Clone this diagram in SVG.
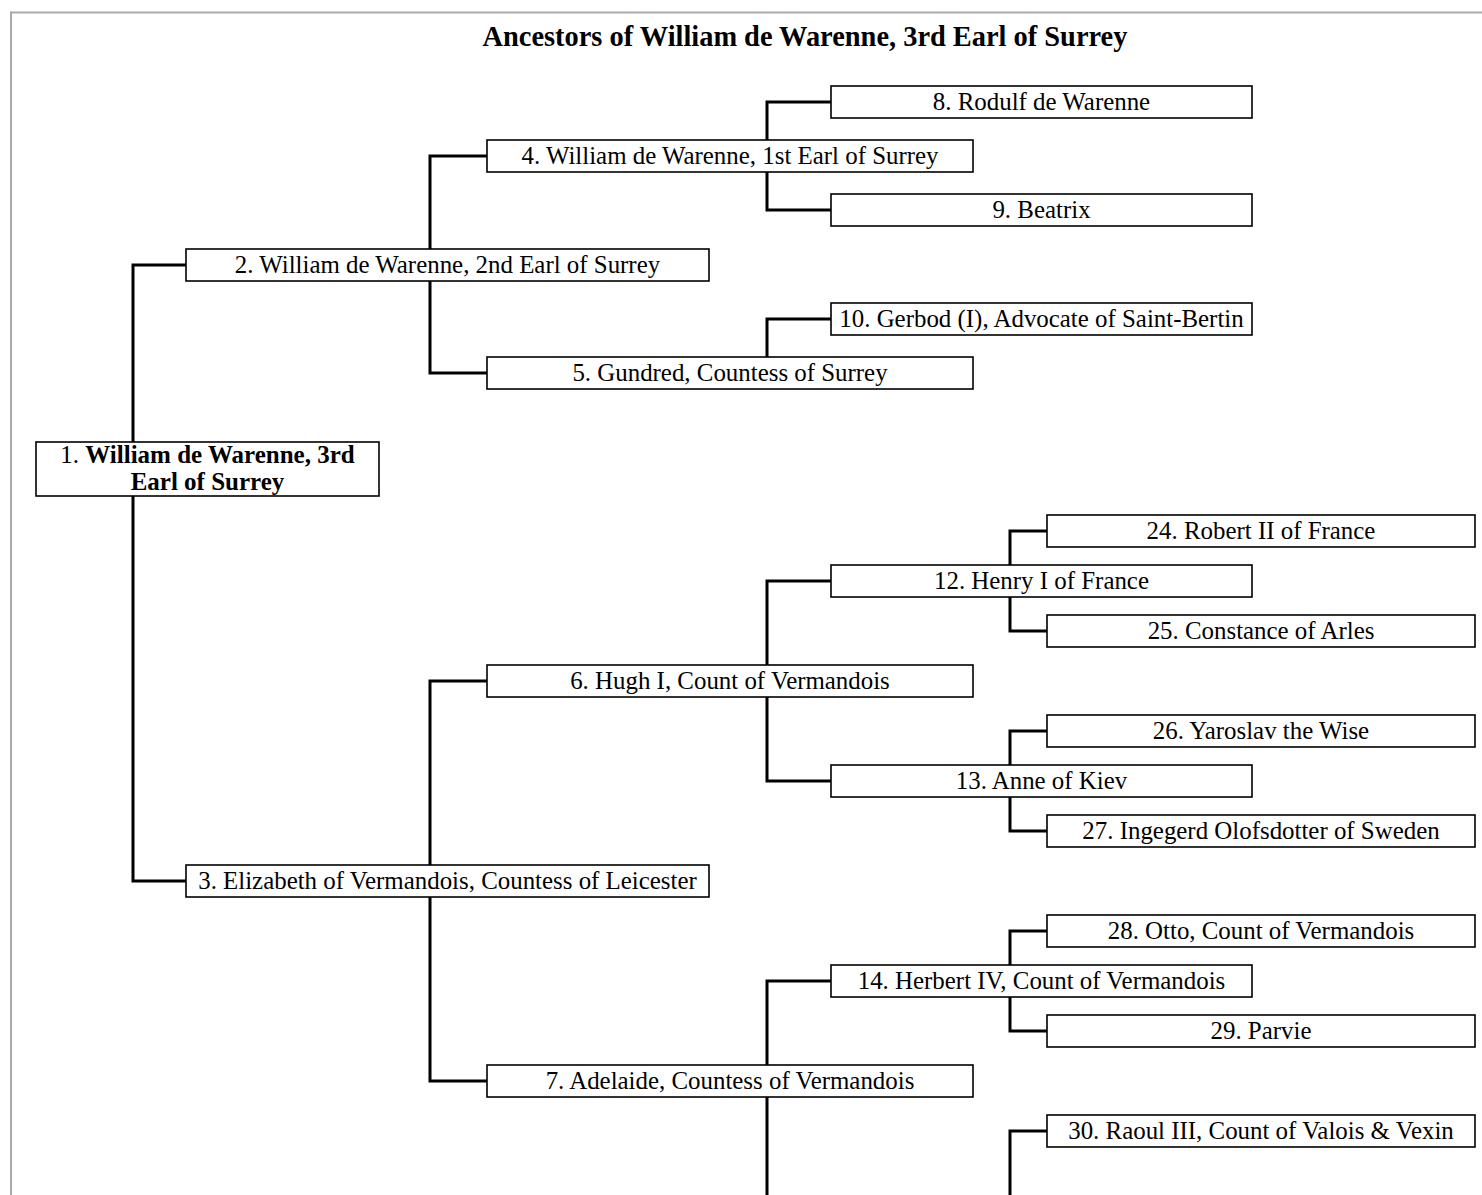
<svg xmlns="http://www.w3.org/2000/svg" width="1482" height="1195" viewBox="0 0 1482 1195">
<style>
.bg{fill:#ffffff}
.frame{fill:none;stroke:#aaaaaa;stroke-width:2}
.box{fill:#ffffff;stroke:#000000;stroke-width:1.6}
.t{font-family:"Liberation Serif","Times New Roman",serif;font-size:24.9px;fill:#000000;text-anchor:middle}
.t1{font-size:25px}
.b{font-weight:bold}
.title{font-family:"Liberation Serif","Times New Roman",serif;font-size:28.4px;font-weight:bold;fill:#000000;text-anchor:middle}
.con{fill:none;stroke:#000000;stroke-width:3}
</style>
<rect class="bg" x="0" y="0" width="1482" height="1195"/>
<rect class="frame" x="11" y="12.5" width="1520" height="1300"/>
<text class="title" x="805" y="46">Ancestors of William de Warenne, 3rd Earl of Surrey</text>
<g id="connectors">
<path class="con" d="M186,265 H133 V442 M133,496 V881 H186"/>
<path class="con" d="M487,156 H430 V249 M430,281 V373 H487"/>
<path class="con" d="M487,681 H430 V865 M430,897 V1081 H487"/>
<path class="con" d="M831,102 H767 V140 M767,172 V210 H831"/>
<path class="con" d="M831,319 H767 V357"/>
<path class="con" d="M831,581 H767 V665 M767,697 V781 H831"/>
<path class="con" d="M831,981 H767 V1065 M767,1097 V1200"/>
<path class="con" d="M1047,531 H1010 V565 M1010,597 V631 H1047"/>
<path class="con" d="M1047,731 H1010 V765 M1010,797 V831 H1047"/>
<path class="con" d="M1047,931 H1010 V965 M1010,997 V1031 H1047"/>
<path class="con" d="M1047,1131 H1010 V1200"/>
</g>
<g id="n1"><rect class="box" x="36" y="442" width="343" height="54"/><text class="t t1" x="207.5" y="463">1. <tspan class="b">William de Warenne, 3rd</tspan></text><text class="t t1 b" x="207.5" y="489.5">Earl of Surrey</text></g>
<g id="n2"><rect class="box" x="186" y="249" width="523" height="32"/><text class="t" x="447.5" y="273">2. William de Warenne, 2nd Earl of Surrey</text></g>
<g id="n3"><rect class="box" x="186" y="865" width="523" height="32"/><text class="t" x="447.5" y="889">3. Elizabeth of Vermandois, Countess of Leicester</text></g>
<g id="n4"><rect class="box" x="487" y="140" width="486" height="32"/><text class="t" x="730" y="164">4. William de Warenne, 1st Earl of Surrey</text></g>
<g id="n5"><rect class="box" x="487" y="357" width="486" height="32"/><text class="t" x="730" y="381">5. Gundred, Countess of Surrey</text></g>
<g id="n6"><rect class="box" x="487" y="665" width="486" height="32"/><text class="t" x="730" y="689">6. Hugh I, Count of Vermandois</text></g>
<g id="n7"><rect class="box" x="487" y="1065" width="486" height="32"/><text class="t" x="730" y="1089">7. Adelaide, Countess of Vermandois</text></g>
<g id="n8"><rect class="box" x="831" y="86" width="421" height="32"/><text class="t" x="1041.5" y="110">8. Rodulf de Warenne</text></g>
<g id="n9"><rect class="box" x="831" y="194" width="421" height="32"/><text class="t" x="1041.5" y="218">9. Beatrix</text></g>
<g id="n10"><rect class="box" x="831" y="303" width="421" height="32"/><text class="t" x="1041.5" y="327">10. Gerbod (I), Advocate of Saint-Bertin</text></g>
<g id="n12"><rect class="box" x="831" y="565" width="421" height="32"/><text class="t" x="1041.5" y="589">12. Henry I of France</text></g>
<g id="n13"><rect class="box" x="831" y="765" width="421" height="32"/><text class="t" x="1041.5" y="789">13. Anne of Kiev</text></g>
<g id="n14"><rect class="box" x="831" y="965" width="421" height="32"/><text class="t" x="1041.5" y="989">14. Herbert IV, Count of Vermandois</text></g>
<g id="n24"><rect class="box" x="1047" y="515" width="428" height="32"/><text class="t" x="1261" y="539">24. Robert II of France</text></g>
<g id="n25"><rect class="box" x="1047" y="615" width="428" height="32"/><text class="t" x="1261" y="639">25. Constance of Arles</text></g>
<g id="n26"><rect class="box" x="1047" y="715" width="428" height="32"/><text class="t" x="1261" y="739">26. Yaroslav the Wise</text></g>
<g id="n27"><rect class="box" x="1047" y="815" width="428" height="32"/><text class="t" x="1261" y="839">27. Ingegerd Olofsdotter of Sweden</text></g>
<g id="n28"><rect class="box" x="1047" y="915" width="428" height="32"/><text class="t" x="1261" y="939">28. Otto, Count of Vermandois</text></g>
<g id="n29"><rect class="box" x="1047" y="1015" width="428" height="32"/><text class="t" x="1261" y="1039">29. Parvie</text></g>
<g id="n30"><rect class="box" x="1047" y="1115" width="428" height="32"/><text class="t" x="1261" y="1139">30. Raoul III, Count of Valois &amp; Vexin</text></g>
</svg>
